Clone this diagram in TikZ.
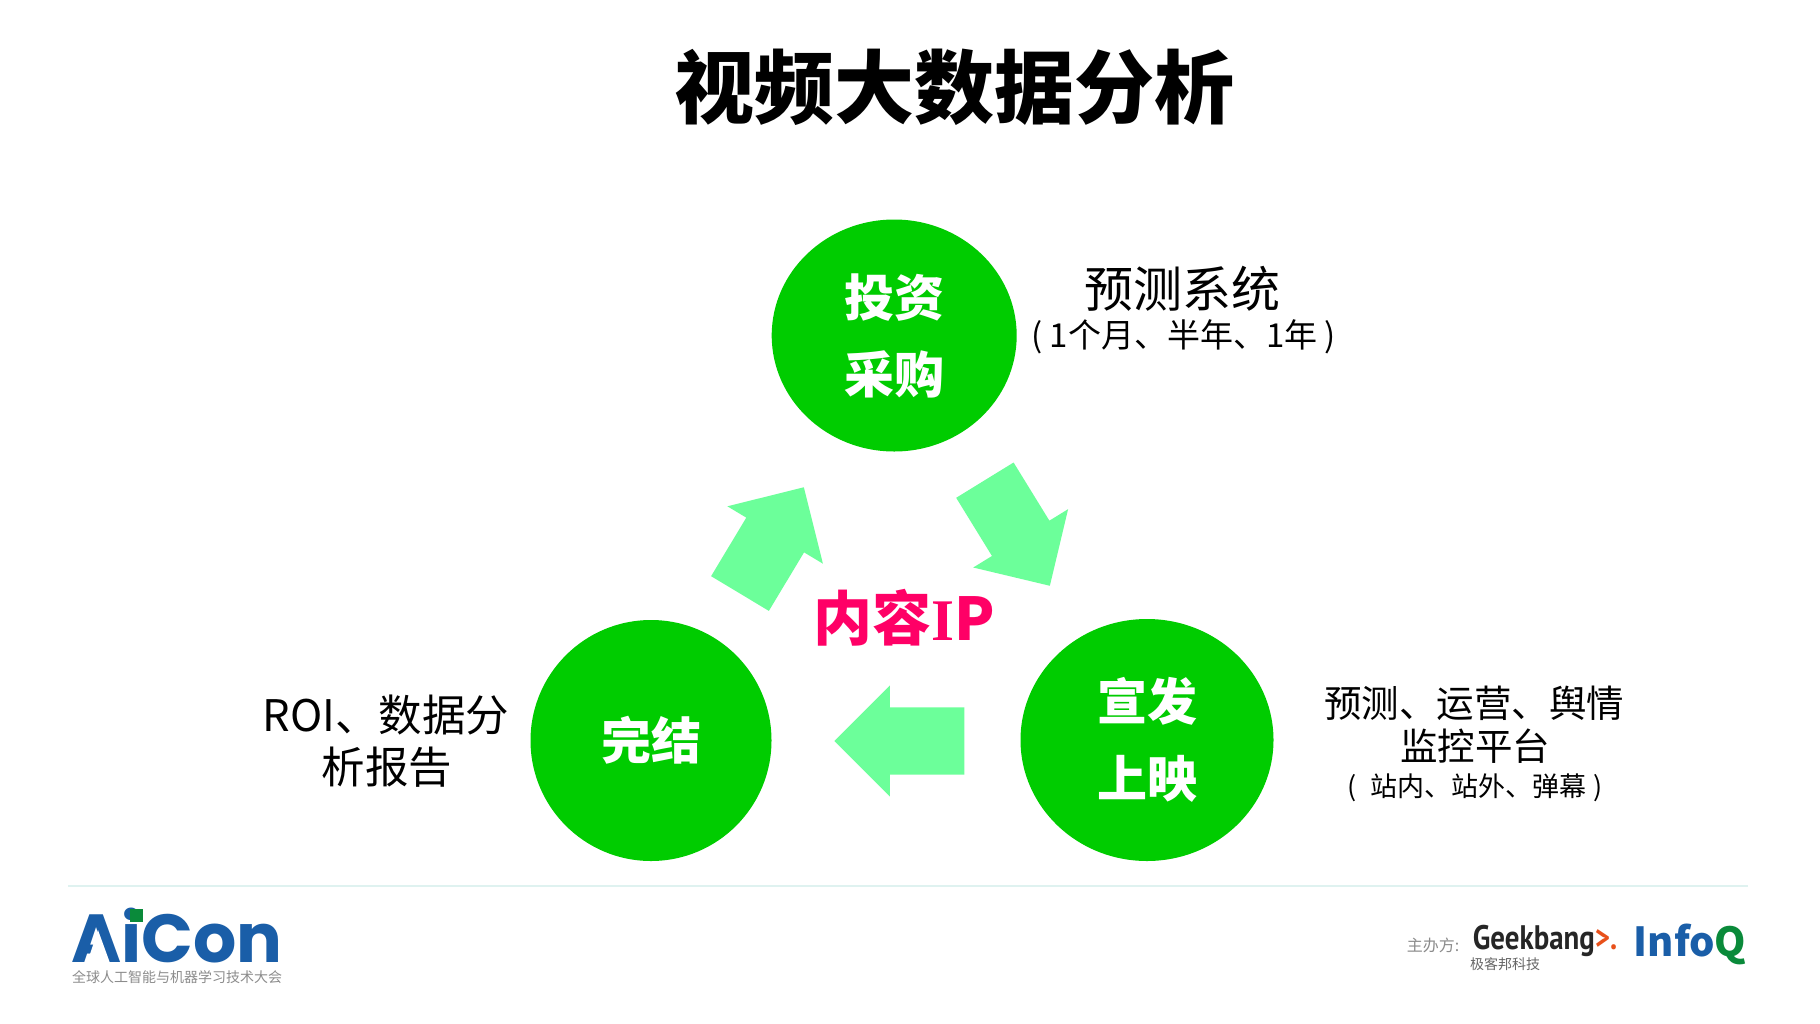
\documentclass[tikz,border=0pt]{standalone}
\usepackage{fontspec}
\setmainfont{Noto Sans CJK SC}
\newfontfamily\romanfont{Liberation Serif}
\newfontfamily\logofont{Poppins}
\newfontfamily\geekfont{PT Sans}
\usepackage{tikz}
\usetikzlibrary{positioning,shapes,shapes.arrows}
\definecolor{stagegreen}{HTML}{00CC00}
\definecolor{flowgreen}{HTML}{6CFF9A}
\definecolor{ippink}{HTML}{FF0066}
\definecolor{rulecyan}{HTML}{DFF2F0}
\definecolor{logoblue}{HTML}{1A5EA8}
\definecolor{logogreen}{HTML}{0A8A3A}
\definecolor{logogray}{HTML}{8C8C8C}
\definecolor{bangorange}{HTML}{E8501A}
\tikzstyle{stage}=[%
      ellipse, fill=stagegreen, text=white, inner sep=0pt, align=center,
      font=\fontsize{50}{77}\selectfont\bfseries
]
\tikzstyle{flow}=[%
      single arrow, fill=flowgreen, inner xsep=0pt, inner ysep=33.5pt, anchor=tip, minimum height=124pt,
      single arrow head extend=22pt, single arrow tip angle=90, single arrow head indent=0pt
]
\tikzstyle{big}=[font=\fontsize{49}{49}\selectfont, inner sep=0pt]
\tikzstyle{mid}=[font=\fontsize{43.5}{43.5}\selectfont, inner sep=0pt]
\tikzstyle{sub}=[font=\fontsize{37.5}{37.5}\selectfont, inner sep=0pt]
\tikzstyle{low}=[font=\fontsize{33}{33}\selectfont, inner sep=0pt]
\tikzstyle{tiny}=[font=\fontsize{27}{27}\selectfont, inner sep=0pt]
\begin{document}
\begin{tikzpicture}[x=1pt,y=-1pt]
    \useasboundingbox (0,0) rectangle (1820,1023);
    \fill[white] (0,0) rectangle (1820,1023);

    \node[font=\fontsize{80}{80}\selectfont\bfseries, inner sep=0pt] (title) at (954.4,87) {视频大数据分析};

    \node[stage, minimum width=245pt, minimum height=232pt] (invest) at (894.2,335.5) {投资\\采购};
    \node[stage, minimum width=253pt, minimum height=242pt] (promote) at (1147,740) {宣发\\上映};
    \node[stage, minimum width=241pt, minimum height=241pt] (finish) at (651,740.5) {完结};

    \node[flow, rotate=59] (flowup) at (804,487) {};
    \node[flow, rotate=-58.4] (flowdown) at (1050,586) {};
    \node[flow, rotate=180, minimum height=130pt] (flowleft) at (834,741) {};

    \node[inner sep=0pt, text=ippink, font=\fontsize{59}{59}\selectfont\bfseries] (ip) at (904.5,618) {内容{\romanfont I}P};

    \node[big] (forecast) at (1182.6,289) {预测系统};
    \node[low] (forecastspan) at (1183.6,337) {( 1个月、半年、1年 )};
    \node[sub] (monitor) at (1474,703) {预测、运营、舆情};
    \node[sub] (monitorb) at (1475,746.5) {监控平台};
    \node[tiny] (monitorspan) at (1475,788) {(\hspace{14pt}站内、站外、弹幕\hspace{7pt})};
    \node[mid] (roi) at (386,715.5) {ROI、数据分};
    \node[mid] (roib) at (387,767.5) {析报告};

    \coordinate (rulea) at (68,886);
    \coordinate (ruleb) at (1748,886);
    \draw[rulecyan, line width=2pt] (rulea) -- (ruleb);

    % logos
    \node[inner sep=0pt, text=logoblue, font=\fontsize{68}{68}\logofont\bfseries] (aicon) at (177,936) {AiCon};
    \fill[white] (87,963) -- (98,930) -- (110,963) -- cycle;
    \fill[logogreen] (130,909) rectangle (143,922);
    \node[inner sep=0pt, text=logogray, font=\fontsize{14}{14}\selectfont] (aiconsub) at (177,977) {全球人工智能与机器学习技术大会};

    \node[inner sep=0pt, text=logogray, font=\fontsize{16}{16}\selectfont] (host) at (1433,945) {主办方:};
    \node[inner sep=0pt, xscale=.85, text=black!85, font=\fontsize{34}{34}\geekfont\bfseries] (geek) at (1545,941) {Geekbang\textcolor{bangorange}{>.}};
    \node[inner sep=0pt, text=black!60, font=\fontsize{14}{14}\selectfont] (geeksub) at (1505,964) {极客邦科技};
    \node[inner sep=0pt, text=logoblue, font=\fontsize{40}{40}\selectfont\bfseries] (infoq) at (1690,944) {Info\textcolor{logogreen}{Q}};
  \end{tikzpicture}
\end{document}
